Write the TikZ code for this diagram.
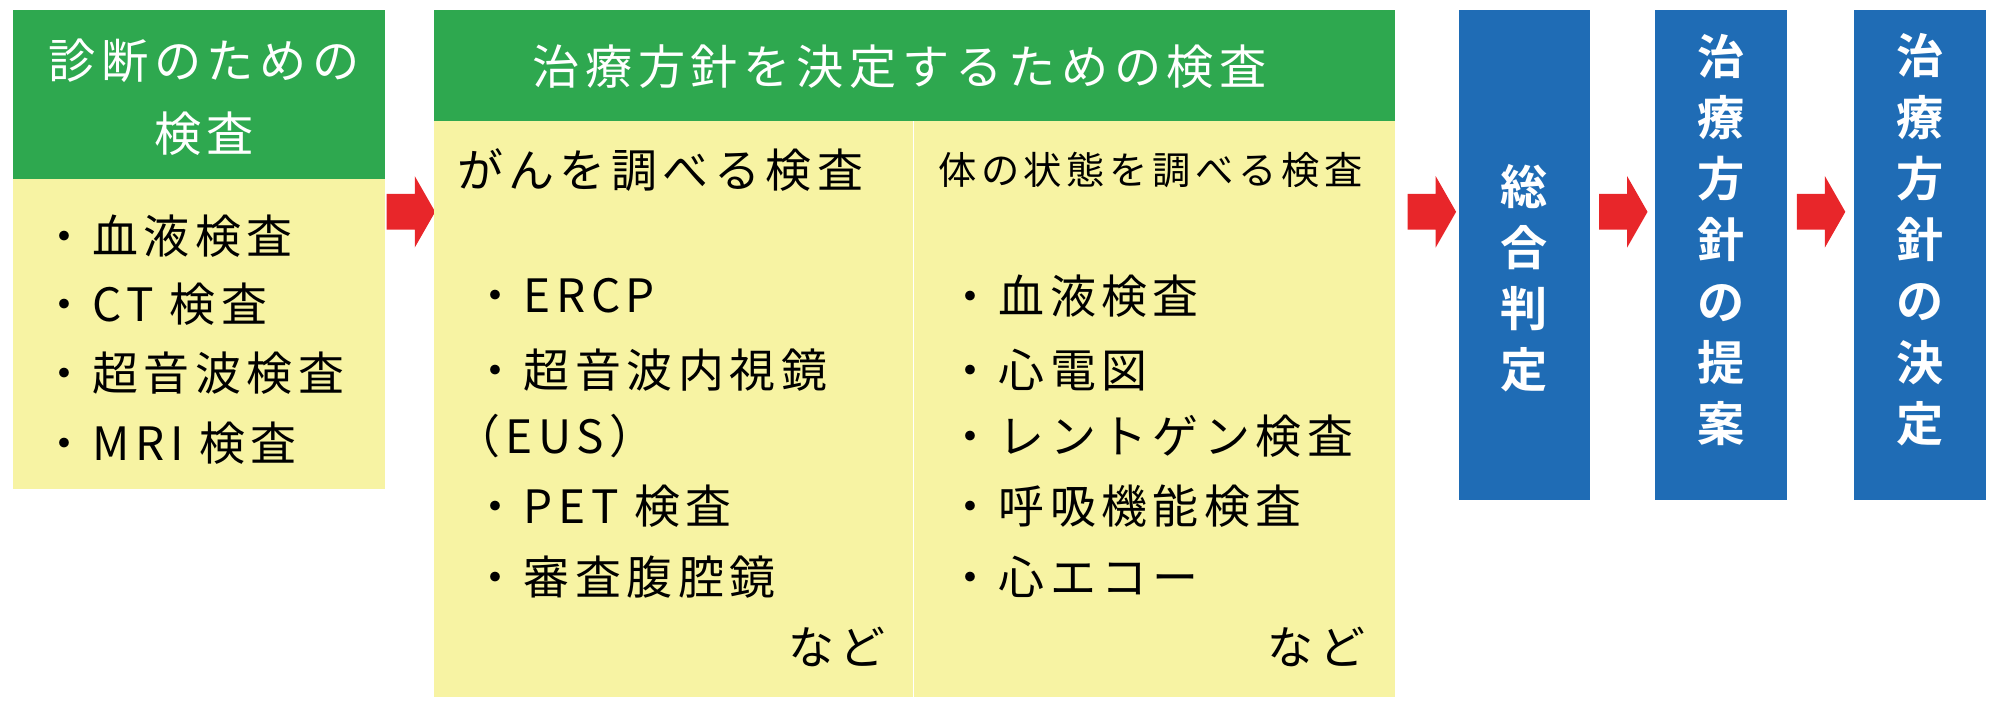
\documentclass[tikz,border=0pt]{standalone}
\usepackage{fontspec}
\setmainfont{Noto Sans CJK JP}
\newfontfamily\jpw[LetterSpace=12]{Noto Sans CJK JP}
\newfontfamily\jpb{Noto Sans CJK JP Bold}
\definecolor{hgreen}{HTML}{2EA84F}
\definecolor{byellow}{HTML}{F7F3A3}
\definecolor{bblue}{HTML}{1F6CB5}
\definecolor{ared}{HTML}{E8262A}
\begin{document}
\begin{tikzpicture}[x=1pt,y=-1pt,
  hdr/.style={fill=hgreen},
  body/.style={fill=byellow},
  blu/.style={fill=bblue},
  ht/.style={text=white,font=\jpw\fontsize{37}{40}\selectfont,inner sep=0},
  it/.style={anchor=west,font=\jpw\fontsize{36}{40}\selectfont,inner sep=0},
  sm/.style={anchor=west,font=\jpw\fontsize{30}{36}\selectfont,inner sep=0},
  vt/.style={text=white,font=\jpb\fontsize{37}{48}\selectfont,align=center,inner sep=0}]
\useasboundingbox (0,0) rectangle (1568,556);
\newcommand{\redarrow}[1]{\fill[ared] (#1,152) -- (#1+22,152) -- (#1+22,138) -- (#1+38,166) -- (#1+22,194) -- (#1+22,180) -- (#1,180) -- cycle;}
% box 1
\fill[hdr] (10,8) rectangle (302,140);
\fill[body] (10,140) rectangle (302,383);
\node[ht] (h1a) at (160,48) {診断のための};
\node[ht] (h1b) at (160,105) {検査};
\node[it] (a1) at (32,185) {・血液検査};
\node[it] (a2) at (32,238) {・CT 検査};
\node[it] (a3) at (32,292) {・超音波検査};
\node[it] (a4) at (32,347) {・MRI 検査};
\redarrow{303}
% box 2
\fill[hdr] (340,8) rectangle (1093,95);
\fill[body] (340,95) rectangle (1093,546);
\draw[white,line width=1pt] (716,95) -- (716,546);
\node[ht] (h2) at (705,52) {治療方針を決定するための検査};
\node[it] (c0) at (358,133) {がんを調べる検査};
\node[sm] (d0) at (735,133) {体の状態を調べる検査};
\node[it] (c1) at (370,232) {・ERCP};
\node[it] (c2) at (370,290) {・超音波内視鏡};
\node[it] (c3) at (356,342) {（EUS）};
\node[it] (c4) at (370,397) {・PET 検査};
\node[it] (c5) at (370,452) {・審査腹腔鏡};
\node[it,anchor=east] (c6) at (694,507) {など};
\node[it] (d1) at (742,232) {・血液検査};
\node[it] (d2) at (742,290) {・心電図};
\node[it] (d3) at (742,342) {・レントゲン検査};
\node[it] (d4) at (742,397) {・呼吸機能検査};
\node[it] (d5) at (742,452) {・心エコー};
\node[it,anchor=east] (d6) at (1070,507) {など};
\redarrow{1103}
% blue boxes
\fill[blu] (1143,8) rectangle (1246,392);
\node[vt] (b1) at (1194.5,218) {総\\合\\判\\定};
\redarrow{1253}
\fill[blu] (1297,8) rectangle (1400,392);
\node[vt] (b2) at (1348.5,188) {治\\療\\方\\針\\の\\提\\案};
\redarrow{1408}
\fill[blu] (1453,8) rectangle (1556,392);
\node[vt] (b3) at (1504.5,188) {治\\療\\方\\針\\の\\決\\定};
\end{tikzpicture}
\end{document}
